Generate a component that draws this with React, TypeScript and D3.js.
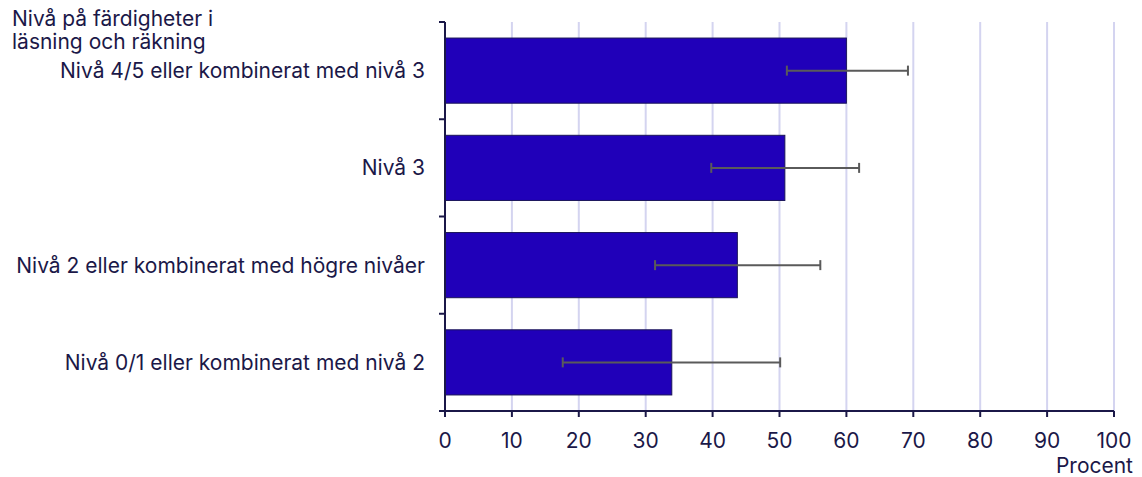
import React from "react";
import * as d3 from "d3";

const categories = [
  "Nivå 4/5 eller kombinerat med nivå 3",
  "Nivå 3",
  "Nivå 2 eller kombinerat med högre nivåer",
  "Nivå 0/1 eller kombinerat med nivå 2",
];
const values = [60.0, 50.8, 43.7, 33.9];
const lower = [51.1, 39.8, 31.4, 17.6];
const upper = [69.2, 61.9, 56.1, 50.1];
const xTicks = [0, 10, 20, 30, 40, 50, 60, 70, 80, 90, 100];
const titleLines = ["Nivå på färdigheter i", "läsning och räkning"];
const xLabel = "Procent";

export default function App() {
  const W = 1142, H = 477;
  const left = 445, right = 1114, top = 22, bottom = 411;
  const x = d3.scaleLinear().domain([0, 100]).range([left, right]);
  const y = d3.scaleBand<string>().domain(categories).range([top, bottom]).paddingInner(0.33).paddingOuter(0.165);
  const text = "#1b1848";
  const font = "Inter, 'Noto Sans', sans-serif";
  const fs = 21;
  const bandStep = (bottom - top) / categories.length;
  return (
    <svg width={W} height={H} style={{ position: "absolute", left: 0, top: 0, fontFamily: font }}>
      {xTicks.slice(1).map((t) => (
        <line key={"g" + t} x1={x(t)} x2={x(t)} y1={top} y2={bottom} stroke="#d4d4f0" strokeWidth={2} />
      ))}
      {categories.map((c, i) => (
        <rect key={c} x={x(0)} y={y(c)} width={x(values[i]) - x(0)} height={y.bandwidth()} fill="#2000b9" stroke="#1a1458" strokeWidth={1} />
      ))}
      {categories.map((c, i) => {
        const cy = (y(c) as number) + y.bandwidth() / 2;
        return (
          <g key={"e" + c} stroke="#5a5a5a" strokeWidth={2}>
            <line x1={x(lower[i])} x2={x(upper[i])} y1={cy} y2={cy} />
            <line x1={x(lower[i])} x2={x(lower[i])} y1={cy - 5} y2={cy + 5} />
            <line x1={x(upper[i])} x2={x(upper[i])} y1={cy - 5} y2={cy + 5} />
          </g>
        );
      })}
      <line x1={left} x2={left} y1={top} y2={bottom} stroke={text} strokeWidth={2} />
      {d3.range(categories.length + 1).map((k) => (
        <line key={"yt" + k} x1={left - 6} x2={left} y1={top + k * bandStep} y2={top + k * bandStep} stroke={text} strokeWidth={2} />
      ))}
      <line x1={left - 6} x2={right} y1={bottom} y2={bottom} stroke={text} strokeWidth={2} />
      {xTicks.map((t) => (
        <g key={"xt" + t}>
          <line x1={x(t)} x2={x(t)} y1={bottom} y2={bottom + 6} stroke={text} strokeWidth={2} />
          <text x={x(t)} y={448} textAnchor="middle" fontSize={fs} fill={text}>{t}</text>
        </g>
      ))}
      <text x={1133} y={473} textAnchor="end" fontSize={fs} fill={text}>{xLabel}</text>
      {categories.map((c) => (
        <text key={"l" + c} x={425} y={(y(c) as number) + y.bandwidth() / 2 + 7.5} textAnchor="end" fontSize={fs} fill={text}>{c}</text>
      ))}
      <text x={12} y={26} fontSize={fs} fill={text}>
        {titleLines.map((l, i) => (
          <tspan key={l} x={12} dy={i === 0 ? 0 : 22.5}>{l}</tspan>
        ))}
      </text>
    </svg>
  );
}
